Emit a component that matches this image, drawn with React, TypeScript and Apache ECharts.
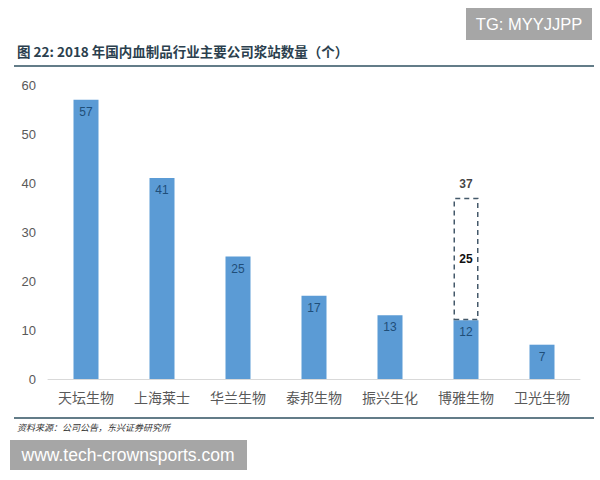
import React, { useEffect, useRef } from "react";
import * as echarts from "echarts";

const categories = ["天坛生物", "上海莱士", "华兰生物", "泰邦生物", "振兴生化", "博雅生物", "卫光生物"];
const baseValues = [57, 41, 25, 17, 13, 12, 7];
const extraValues: (number | null)[] = [null, null, null, null, null, 25, null];
const yTicks = [0, 10, 20, 30, 40, 50, 60];

const titleText = "图 22: 2018 年国内血制品行业主要公司浆站数量（个）";
const sourceText = "资料来源：公司公告，东兴证券研究所";

export default function App() {
  const ref = useRef<HTMLDivElement>(null);
  useEffect(() => {
    if (!ref.current) return;
    const chart = echarts.init(ref.current, null, { renderer: "svg" });
    const totals = extraValues.map((v, i) => (v == null ? null : v + baseValues[i]));
    chart.setOption({
      animation: false,
      backgroundColor: "#ffffff",
      grid: { left: 48, right: 20, top: 85, bottom: 101, containLabel: false },
      xAxis: {
        type: "category",
        data: categories,
        axisLine: { show: true, lineStyle: { color: "#D9D9D9", width: 1 } },
        axisTick: { show: false },
        axisLabel: { interval: 0, color: "#595959", fontSize: 14, margin: 11, fontFamily: "Noto Sans CJK SC" },
      },
      yAxis: {
        type: "value",
        min: yTicks[0],
        max: yTicks[yTicks.length - 1],
        interval: 10,
        axisLine: { show: false },
        axisTick: { show: false },
        splitLine: { show: false },
        axisLabel: { color: "#595959", fontSize: 13, margin: 12, fontFamily: "Liberation Sans" },
      },
      series: [
        {
          type: "bar",
          stack: "s",
          data: baseValues,
          barWidth: 25,
          itemStyle: { color: "#5B9BD5" },
          label: {
            show: true,
            position: "insideTop",
            distance: 6,
            color: "#1F4E79",
            fontSize: 12,
            fontFamily: "Liberation Sans",
          },
        },
        {
          type: "bar",
          stack: "s",
          data: extraValues,
          barWidth: 25,
          itemStyle: {
            color: "rgba(255,255,255,0)",
            borderColor: "#44596A",
            borderWidth: 1.5,
            borderType: [5, 4],
          },
          label: {
            show: true,
            position: "inside",
            color: "#111111",
            fontSize: 12,
            fontWeight: "bold",
            fontFamily: "Liberation Sans",
          },
        },
        {
          type: "scatter",
          data: totals,
          symbolSize: 0,
          label: {
            show: true,
            position: "top",
            distance: 8,
            color: "#111111",
            fontSize: 12,
            fontWeight: "bold",
            fontFamily: "Liberation Sans",
          },
        },
      ],
      graphic: [
        {
          type: "text",
          left: 17,
          top: 44,
          style: {
            text: titleText,
            fill: "#2B3F4E",
            fontSize: 13.5,
            fontWeight: "bold",
            fontFamily: "Noto Sans CJK SC",
          },
        },
        {
          type: "line",
          shape: { x1: 14, y1: 66, x2: 594, y2: 66 },
          style: { stroke: "#2F5061", lineWidth: 1.5 },
        },
        {
          type: "line",
          shape: { x1: 14, y1: 418, x2: 594, y2: 418 },
          style: { stroke: "#2F5061", lineWidth: 1.5 },
        },
        {
          type: "text",
          left: 17,
          top: 423,
          style: {
            text: sourceText,
            fill: "#333333",
            fontSize: 9,
            fontStyle: "italic",
            fontFamily: "Noto Sans CJK SC",
          },
        },
        {
          type: "rect",
          shape: { x: 466, y: 8, width: 126, height: 32 },
          style: { fill: "#A6A6A6" },
        },
        {
          type: "text",
          x: 529,
          y: 24,
          style: {
            text: "TG: MYYJJPP",
            fill: "#ffffff",
            fontSize: 16.5,
            fontFamily: "Liberation Sans",
            align: "center",
            verticalAlign: "middle",
          },
        },
        {
          type: "rect",
          shape: { x: 10, y: 440, width: 237, height: 30 },
          style: { fill: "#A6A6A6" },
        },
        {
          type: "text",
          x: 128,
          y: 455,
          style: {
            text: "www.tech-crownsports.com",
            fill: "#ffffff",
            fontSize: 17.5,
            fontFamily: "Liberation Sans",
            align: "center",
            verticalAlign: "middle",
          },
        },
      ],
    });
    return () => chart.dispose();
  }, []);
  return <div ref={ref} style={{ width: 600, height: 480, position: "absolute", left: 0, top: 0 }} />;
}
